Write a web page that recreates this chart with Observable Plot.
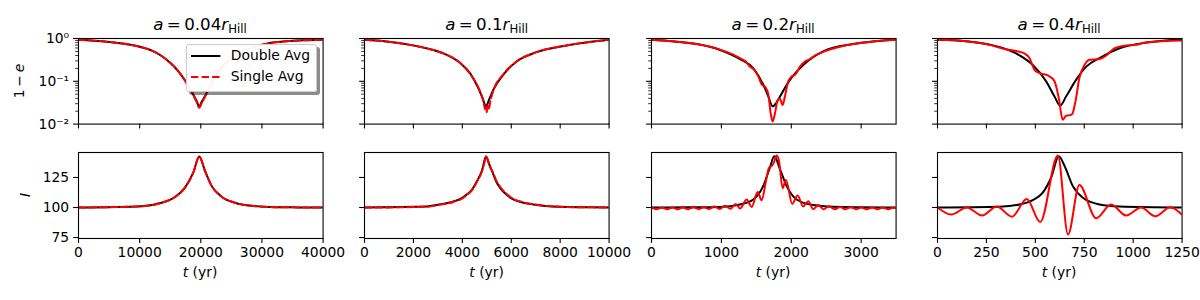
<!DOCTYPE html>
<html>
<head>
<meta charset="utf-8">
<script src="https://cdn.jsdelivr.net/npm/d3@7"></script>
<script src="https://cdn.jsdelivr.net/npm/@observablehq/plot@0.6"></script>
<style>
  body { margin: 0; background: #fff; }
  #fig { position: relative; width: 1200px; height: 300px; overflow: hidden; background: #fff;
         font-family: "DejaVu Sans", sans-serif; color: #000; }
  .abs { position: absolute; white-space: nowrap; line-height: 1; }
  .title { font-size: 16.7px; transform: translateX(-50%); }
  .xlab { font-size: 13.9px; transform: translateX(-50%); }
  .ylab { font-size: 13.9px; transform: translate(-50%, -50%) rotate(-90deg); }
  .sub { font-size: 70%; position: relative; top: 0.22em; }
  .legend { position: absolute; background: rgba(255,255,255,0.95); border: 1px solid #cccccc;
            border-radius: 3px; box-shadow: 3px 3px 0 rgba(0,0,0,0.45); box-sizing: border-box; }
  .legend .row { position: absolute; font-size: 13.9px; line-height: 1; white-space: nowrap; }
</style>
</head>
<body>
<div id="fig"></div>
<script>
// ---------------- data ----------------
const titles = ["0.04", "0.1", "0.2", "0.4"];
const seriesNames = ["Double Avg", "Single Avg"];

const p1_xmax = 40000, p2_xmax = 10000, p3_xmax = 3500, p4_xmax = 1250;
const p1_xticks = [0, 10000, 20000, 30000, 40000];
const p2_xticks = [0, 2000, 4000, 6000, 8000, 10000];
const p3_xticks = [0, 1000, 2000, 3000];
const p4_xticks = [0, 250, 500, 750, 1000, 1250];
const e_ticks = [0.01, 0.1, 1];
const e_tick_labels = ["10⁻²", "10⁻¹", "10⁰"];
const e_minor = [0.02, 0.03, 0.04, 0.05, 0.06, 0.07, 0.08, 0.09, 0.2, 0.3, 0.4, 0.5, 0.6, 0.7, 0.8, 0.9];
const I_ticks = [75, 100, 125];

// panel 1 (a = 0.04 r_Hill)
const p1_dbl_e_t = [0, 2500, 5000, 7500, 10000, 12000, 13600, 15000, 16500, 17500, 18800, 19300, 19750, 20200, 20800, 21800, 23000, 24500, 26500, 28500, 31000, 34000, 37000, 40000];
const p1_dbl_e   = [0.93, 0.89, 0.83, 0.75, 0.64, 0.52, 0.39, 0.27, 0.16, 0.10, 0.048, 0.035, 0.026, 0.034, 0.048, 0.095, 0.18, 0.30, 0.47, 0.62, 0.77, 0.86, 0.91, 0.94];
const p1_sgl_e_t = [0, 2500, 5000, 7500, 10000, 12000, 13600, 15000, 16500, 17500, 18800, 19300, 19750, 20200, 20800, 21800, 23000, 24500, 26500, 28500, 31000, 34000, 37000, 40000];
const p1_sgl_e   = [0.93, 0.89, 0.83, 0.75, 0.64, 0.52, 0.39, 0.27, 0.16, 0.10, 0.047, 0.033, 0.024, 0.032, 0.047, 0.095, 0.18, 0.30, 0.47, 0.62, 0.77, 0.86, 0.91, 0.94];
const p1_dbl_I_t = [0, 5000, 10310, 13590, 15770, 17410, 18770, 19750, 20680, 21770, 23410, 25590, 28320, 32140, 36000, 40000];
const p1_dbl_I   = [100, 100.3, 101, 104, 108.7, 116.6, 129, 142.4, 130.6, 118, 109, 104, 101.4, 100.3, 100.1, 100];
const p1_sgl_I_t = [0, 5000, 10310, 13590, 15770, 17410, 18770, 19750, 20680, 21770, 23410, 25590, 28320, 32140, 36000, 40000];
const p1_sgl_I   = [100, 100.3, 101, 104, 108.6, 116.5, 129, 142.3, 130.5, 118, 109, 104, 101.4, 100.3, 100.1, 100];

// panel 2 (a = 0.1 r_Hill)
const p2_dbl_e_t = [0, 900, 1864, 2600, 3224, 3905, 4313, 4653, 4830, 4966, 5100, 5265, 5673, 6218, 7034, 8259, 9200, 10000];
const p2_dbl_e   = [0.93, 0.85, 0.71, 0.58, 0.45, 0.27, 0.155, 0.069, 0.040, 0.026, 0.038, 0.063, 0.142, 0.29, 0.48, 0.69, 0.83, 0.94];
const p2_sgl_e_t = [0, 900, 1864, 2600, 3224, 3905, 4313, 4653, 4800, 4880, 4930, 4966, 5000, 5040, 5090, 5150, 5265, 5673, 6218, 7034, 8259, 9200, 10000];
const p2_sgl_e   = [0.93, 0.85, 0.71, 0.58, 0.45, 0.27, 0.15, 0.072, 0.045, 0.030, 0.022, 0.024, 0.019, 0.027, 0.023, 0.035, 0.060, 0.145, 0.29, 0.48, 0.69, 0.83, 0.94];
const p2_dbl_I_t = [0, 1000, 2000, 2544, 3000, 3633, 4000, 4177, 4400, 4585, 4800, 4966, 5100, 5265, 5400, 5537, 5800, 6082, 6500, 6898, 7986, 9000, 10000];
const p2_dbl_I   = [100, 100.2, 100.6, 100.8, 102.3, 105, 108, 110.8, 115, 121.5, 130.5, 142.4, 136, 127.8, 121, 116.6, 110.8, 106.7, 104, 102.5, 100.6, 100.2, 100];
const p2_sgl_I_t = [0, 1000, 2000, 2544, 3000, 3633, 4000, 4177, 4400, 4585, 4800, 4900, 4966, 5050, 5100, 5265, 5400, 5537, 5800, 6082, 6500, 6898, 7986, 9000, 10000];
const p2_sgl_I   = [100, 100.1, 100.4, 100.6, 102, 104.6, 107.5, 110.3, 114.5, 121, 130, 137, 142.4, 139, 135.5, 128.5, 122, 117.5, 111.5, 107.2, 104.3, 102.7, 100.6, 100.2, 100];

// panel 3 (a = 0.2 r_Hill)
const p3_dbl_e_t = [0, 300, 648, 981, 1267, 1457, 1600, 1670, 1733, 1790, 1838, 1981, 2172, 2457, 2886, 3200, 3500];
const p3_dbl_e   = [0.93, 0.86, 0.74, 0.54, 0.33, 0.20, 0.083, 0.045, 0.026, 0.032, 0.044, 0.108, 0.24, 0.50, 0.74, 0.86, 0.95];
const p3_sgl_e_t = [0, 300, 648, 981, 1171, 1290, 1338, 1410, 1467, 1529, 1576, 1624, 1671, 1705, 1733, 1767, 1805, 1838, 1876, 1910, 1957, 2005, 2052, 2124, 2195, 2267, 2338, 2410, 2505, 2695, 2886, 3171, 3500];
const p3_sgl_e   = [0.93, 0.86, 0.74, 0.55, 0.42, 0.33, 0.30, 0.22, 0.19, 0.13, 0.085, 0.075, 0.05, 0.018, 0.0115, 0.018, 0.036, 0.039, 0.028, 0.045, 0.10, 0.13, 0.14, 0.22, 0.29, 0.33, 0.40, 0.45, 0.52, 0.64, 0.74, 0.85, 0.93];
const p3_dbl_I_t = [0, 500, 981, 1267, 1457, 1600, 1695, 1757, 1838, 1933, 2076, 2314, 2600, 3000, 3500];
const p3_dbl_I   = [100, 100.2, 100.5, 102.5, 106.7, 118, 133.4, 142.6, 132, 118, 106.7, 102, 100.6, 100.2, 100];
const p3_sgl_I_t = [0, 75, 150, 225, 300, 375, 450, 525, 600, 675, 750, 825, 900, 975, 1052, 1130, 1205, 1267, 1362, 1433, 1519, 1576, 1638, 1681, 1719, 1752, 1790, 1824, 1876, 1924, 2014, 2090, 2171, 2243, 2314, 2386, 2460, 2540, 2620, 2700, 2775, 2850, 2930, 3000, 3080, 3160, 3235, 3310, 3390, 3460, 3500];
const p3_sgl_I   = [100, 98.6, 100, 98.6, 100, 98.6, 100.1, 98.6, 100.2, 98.7, 100.3, 98.7, 100.8, 98.8, 101.5, 99, 103, 99.2, 106.7, 100.5, 113, 106, 122, 133, 134.5, 137.6, 143.3, 139, 116, 123, 103, 110, 100.8, 105.3, 98.6, 102, 98.6, 101, 98.6, 100.5, 98.6, 100.2, 98.6, 100.1, 98.6, 100, 98.6, 100, 98.6, 100, 99.4];

// panel 4 (a = 0.4 r_Hill)
const p4_dbl_e_t = [0, 146, 283, 402, 487, 555, 598, 627, 657, 708, 760, 828, 930, 1083, 1250];
const p4_dbl_e   = [0.93, 0.86, 0.69, 0.45, 0.24, 0.10, 0.044, 0.027, 0.044, 0.108, 0.22, 0.35, 0.59, 0.82, 0.95];
const p4_sgl_e_t = [0, 146, 266, 342, 402, 444, 470, 496, 521, 564, 598, 620, 640, 657, 674, 688, 705, 725, 751, 777, 828, 862, 904, 964, 1015, 1066, 1250];
const p4_sgl_e   = [0.93, 0.86, 0.71, 0.57, 0.51, 0.45, 0.35, 0.185, 0.155, 0.137, 0.10, 0.04, 0.0126, 0.0157, 0.016, 0.017, 0.034, 0.12, 0.24, 0.32, 0.33, 0.40, 0.59, 0.69, 0.71, 0.82, 0.90];
const p4_dbl_I_t = [0, 317, 419, 487, 538, 581, 620, 649, 691, 743, 828, 930, 1250];
const p4_dbl_I   = [100, 100.6, 102.5, 106.2, 112.4, 125, 142.7, 134.8, 118, 108.1, 102.5, 100.8, 100];
const p4_sgl_I_t = [0, 70, 150, 228, 303, 381, 456, 525, 615, 667, 725, 811, 887, 964, 1040, 1114, 1189, 1250];
const p4_sgl_I   = [100, 94.1, 100, 93.3, 100.8, 92.4, 107, 87.9, 143.3, 77.5, 118.8, 91, 102.5, 93.3, 100, 92.7, 100.3, 94];

// ---------------- layout ----------------
const colLeft = [77.7, 364.3, 650.7, 936.7];
const frameW = 244.6;
const rowTop = [37.7, 152.3];
const frameH = [85.6, 86.0];
const ML = 70, MR = 45, MT = 6, MB = 30;
const redDash = [true, true, false, false];

const panels = [
  {xmax: p1_xmax, xticks: p1_xticks, e: [p1_dbl_e_t, p1_dbl_e, p1_sgl_e_t, p1_sgl_e], I: [p1_dbl_I_t, p1_dbl_I, p1_sgl_I_t, p1_sgl_I]},
  {xmax: p2_xmax, xticks: p2_xticks, e: [p2_dbl_e_t, p2_dbl_e, p2_sgl_e_t, p2_sgl_e], I: [p2_dbl_I_t, p2_dbl_I, p2_sgl_I_t, p2_sgl_I]},
  {xmax: p3_xmax, xticks: p3_xticks, e: [p3_dbl_e_t, p3_dbl_e, p3_sgl_e_t, p3_sgl_e], I: [p3_dbl_I_t, p3_dbl_I, p3_sgl_I_t, p3_sgl_I]},
  {xmax: p4_xmax, xticks: p4_xticks, e: [p4_dbl_e_t, p4_dbl_e, p4_sgl_e_t, p4_sgl_e], I: [p4_dbl_I_t, p4_dbl_I, p4_sgl_I_t, p4_sgl_I]}
];

const toRows = (ts, vs) => ts.map((t, i) => ({t, v: vs[i]}));
const fig = document.getElementById("fig");

function addPanel(c, r) {
  const P = panels[c];
  const arrs = r === 0 ? P.e : P.I;
  const dbl = toRows(arrs[0], arrs[1]);
  const sgl = toRows(arrs[2], arrs[3]);
  const yOpts = r === 0
    ? {type: "log", domain: [0.01, 1], label: null}
    : {type: "linear", domain: [74.2, 145.8], label: null};
  const marks = [
    Plot.axisX({ticks: P.xticks, tickSize: 4.9, tickPadding: 4.2, strokeWidth: 1.1, label: null,
                tickFormat: r === 0 ? () => "" : d => String(d)}),
  ];
  if (r === 0) {
    marks.push(Plot.axisY({ticks: e_ticks, tickSize: 4.9, tickPadding: 4.5, strokeWidth: 1.1, label: null,
      tickFormat: c === 0 ? d => e_tick_labels[e_ticks.indexOf(d)] : () => ""}));
    marks.push(Plot.axisY({ticks: e_minor, tickSize: 2.8, strokeWidth: 0.8, label: null, tickFormat: () => ""}));
  } else {
    marks.push(Plot.axisY({ticks: I_ticks, tickSize: 4.9, tickPadding: 4.5, strokeWidth: 1.1, label: null,
      tickFormat: c === 0 ? d => String(d) : () => ""}));
  }
  marks.push(Plot.line(dbl, {x: "t", y: "v", stroke: "black", strokeWidth: 2, curve: "monotone-x", clip: true}));
  marks.push(Plot.line(sgl, {x: "t", y: "v", stroke: "red", strokeWidth: 2, curve: "monotone-x", clip: true,
    strokeDasharray: redDash[c] ? "7.4,3.2" : null}));
  marks.push(Plot.frame({stroke: "black", strokeWidth: 1.1}));

  const svg = Plot.plot({
    width: ML + frameW + MR,
    height: MT + frameH[r] + MB,
    marginLeft: ML, marginRight: MR, marginTop: MT, marginBottom: MB,
    x: {domain: [0, P.xmax], label: null},
    y: yOpts,
    marks,
    style: {background: "transparent", overflow: "visible", fontFamily: "DejaVu Sans, sans-serif",
            fontSize: "13.9px", color: "black", position: "absolute",
            left: (colLeft[c] - ML) + "px", top: (rowTop[r] - MT) + "px", maxWidth: "none"}
  });
  fig.appendChild(svg);
}

for (let r = 0; r < 2; r++) for (let c = 0; c < 4; c++) addPanel(c, r);

// titles & labels
function addDiv(cls, html, left, top) {
  const d = document.createElement("div");
  d.className = "abs " + cls;
  d.innerHTML = html;
  d.style.left = left + "px";
  d.style.top = top + "px";
  fig.appendChild(d);
  return d;
}
titles.forEach((s, c) => {
  const cx = colLeft[c] + frameW / 2;
  addDiv("title", `<i>a</i>&#8201;=&#8201;${s}<i>r</i><span class="sub">Hill</span>`, cx, 16);
  addDiv("xlab", `<i>t</i> (yr)`, cx, 266);
});
addDiv("ylab", `1&#8201;&#8722;&#8201;<i>e</i>`, 20, rowTop[0] + frameH[0] / 2);
addDiv("ylab", `<i>I</i>`, 26, rowTop[1] + frameH[1] / 2);

// legend
const leg = document.createElement("div");
leg.className = "legend";
Object.assign(leg.style, {left: "185.7px", top: "44px", width: "131px", height: "48.3px"});
const swatch = (color, dash) =>
  `<svg width="30" height="6" style="position:absolute;left:4.6px;top:-3px;overflow:visible">` +
  `<line x1="0" y1="3" x2="29.4" y2="3" stroke="${color}" stroke-width="2" ${dash ? 'stroke-dasharray="7.4,3.2"' : ""}/></svg>`;
[["black", false, 11], ["red", true, 31.7]].forEach(([col, dash, y], i) => {
  const row = document.createElement("div");
  row.className = "row";
  row.style.left = "0px";
  row.style.top = y + "px";
  row.innerHTML = swatch(col, dash) +
    `<span style="position:absolute;left:44px;top:-7px">${seriesNames[i]}</span>`;
  leg.appendChild(row);
});
fig.appendChild(leg);
</script>
</body>
</html>
